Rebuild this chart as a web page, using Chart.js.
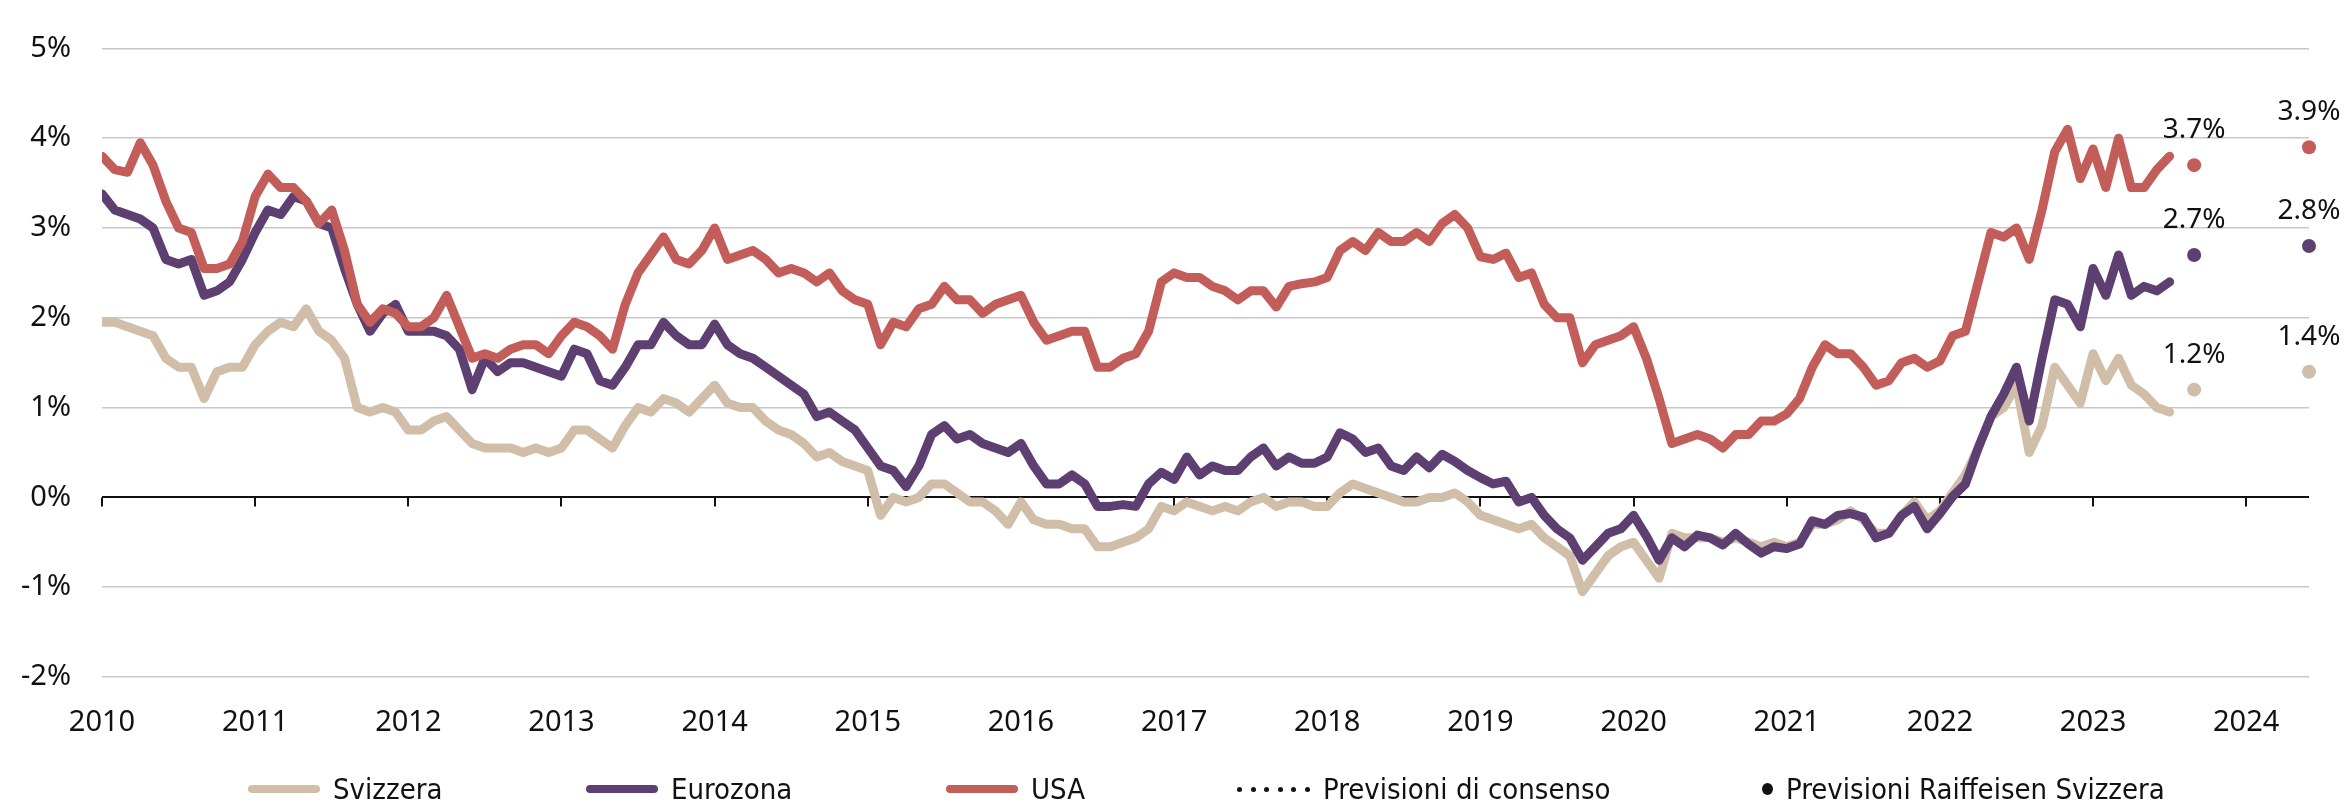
<!DOCTYPE html>
<html lang="it">
  <head>
    <meta charset="UTF-8" />
    <title>Rendimenti dei titoli di Stato a 10 anni</title>
    <script src="https://cdn.jsdelivr.net/npm/chart.js"></script>
    <style>
      body {
        margin: 0;
        background: #fff;
      }
      .wrap {
        position: relative;
        width: 2351px;
        height: 805px;
      }
      .legend-item {
        position: absolute;
        top: 771px;
        height: 36px;
        display: flex;
        align-items: center;
        font-family: "DejaVu Sans Condensed", "Liberation Sans Narrow", sans-serif;
        font-size: 29px;
        color: #111;
        white-space: nowrap;
      }
      .swatch {
        width: 72px;
        height: 8px;
        border-radius: 4px;
        margin-right: 13px;
      }
      .dots {
        display: flex;
        gap: 8.6px;
        margin-right: 13px;
      }
      .dots span {
        width: 5px;
        height: 5px;
        border-radius: 50%;
        background: #111;
      }
      .bigdot {
        width: 11px;
        height: 12px;
        border-radius: 50%;
        background: #111;
        margin-right: 13px;
      }
    </style>
  </head>
  <body>
    <div class="wrap">
      <canvas id="chart" width="2351" height="805"></canvas>

      <div class="legend-item" style="left: 248px">
        <div class="swatch" style="background: #d0bea9"></div>Svizzera
      </div>
      <div class="legend-item" style="left: 586px">
        <div class="swatch" style="background: #5e3f72"></div>Eurozona
      </div>
      <div class="legend-item" style="left: 946px">
        <div class="swatch" style="background: #c25d5a"></div>USA
      </div>
      <div class="legend-item" style="left: 1237px">
        <div class="dots"><span></span><span></span><span></span><span></span><span></span><span></span></div>Previsioni di consenso
      </div>
      <div class="legend-item" style="left: 1762px">
        <div class="bigdot"></div>Previsioni Raiffeisen Svizzera
      </div>
    </div>

    <script>
      // monthly values, first day of each month, Jan 2010 .. Jul 2023
      var startYear = 2010;

      var svizzera = [
        1.95, 1.95, 1.90, 1.85, 1.80, 1.55, 1.45, 1.45, 1.10, 1.40, 1.45, 1.45,
        1.70, 1.85, 1.95, 1.90, 2.10, 1.85, 1.75, 1.55, 1.00, 0.95, 1.00, 0.95,
        0.75, 0.75, 0.85, 0.90, 0.75, 0.60, 0.55, 0.55, 0.55, 0.50, 0.55, 0.50,
        0.55, 0.75, 0.75, 0.65, 0.55, 0.80, 1.00, 0.95, 1.10, 1.05, 0.95, 1.10,
        1.25, 1.05, 1.00, 1.00, 0.85, 0.75, 0.70, 0.60, 0.45, 0.50, 0.40, 0.35,
        0.30, -0.20, 0.00, -0.05, 0.00, 0.15, 0.15, 0.05, -0.05, -0.05, -0.15, -0.30,
        -0.05, -0.25, -0.30, -0.30, -0.35, -0.35, -0.55, -0.55, -0.50, -0.45, -0.35, -0.10,
        -0.15, -0.05, -0.10, -0.15, -0.10, -0.15, -0.05, 0.00, -0.10, -0.05, -0.05, -0.10,
        -0.10, 0.05, 0.15, 0.10, 0.05, 0.00, -0.05, -0.05, 0.00, 0.00, 0.05, -0.05,
        -0.20, -0.25, -0.30, -0.35, -0.30, -0.45, -0.55, -0.65, -1.05, -0.85, -0.65, -0.55,
        -0.50, -0.70, -0.90, -0.40, -0.45, -0.45, -0.45, -0.50, -0.45, -0.50, -0.55, -0.50,
        -0.55, -0.50, -0.30, -0.30, -0.25, -0.15, -0.25, -0.40, -0.40, -0.20, -0.05, -0.25,
        -0.15, 0.05, 0.25, 0.55, 0.90, 1.00, 1.25, 0.50, 0.80, 1.45, 1.25, 1.05,
        1.60, 1.30, 1.55, 1.25, 1.15, 1.00, 0.95
      ];

      var eurozona = [
        3.38, 3.20, 3.15, 3.10, 3.00, 2.65, 2.60, 2.65, 2.25, 2.30, 2.40, 2.65,
        2.95, 3.20, 3.15, 3.35, 3.30, 3.05, 3.00, 2.55, 2.15, 1.85, 2.05, 2.15,
        1.85, 1.85, 1.85, 1.80, 1.65, 1.20, 1.55, 1.40, 1.50, 1.50, 1.45, 1.40,
        1.35, 1.65, 1.60, 1.30, 1.25, 1.45, 1.70, 1.70, 1.95, 1.80, 1.70, 1.70,
        1.93, 1.70, 1.60, 1.55, 1.45, 1.35, 1.25, 1.15, 0.90, 0.95, 0.85, 0.75,
        0.55, 0.35, 0.30, 0.12, 0.35, 0.70, 0.80, 0.65, 0.70, 0.60, 0.55, 0.50,
        0.60, 0.35, 0.15, 0.15, 0.25, 0.15, -0.10, -0.10, -0.08, -0.10, 0.15, 0.28,
        0.20, 0.45, 0.25, 0.35, 0.30, 0.30, 0.45, 0.55, 0.35, 0.45, 0.38, 0.38,
        0.45, 0.72, 0.65, 0.50, 0.55, 0.35, 0.30, 0.45, 0.33, 0.48, 0.40, 0.30,
        0.22, 0.15, 0.18, -0.05, 0.00, -0.20, -0.35, -0.45, -0.70, -0.55, -0.40, -0.35,
        -0.20, -0.43, -0.70, -0.45, -0.55, -0.42, -0.45, -0.53, -0.40, -0.52, -0.62, -0.55,
        -0.57, -0.52, -0.26, -0.30, -0.20, -0.18, -0.22, -0.45, -0.40, -0.20, -0.10, -0.35,
        -0.18, 0.01, 0.15, 0.55, 0.90, 1.15, 1.45, 0.85, 1.55, 2.20, 2.15, 1.90,
        2.55, 2.25, 2.70, 2.25, 2.35, 2.30, 2.40
      ];

      var usa = [
        3.80, 3.65, 3.62, 3.95, 3.70, 3.30, 3.00, 2.95, 2.55, 2.55, 2.60, 2.85,
        3.35, 3.60, 3.45, 3.45, 3.30, 3.05, 3.20, 2.75, 2.15, 1.95, 2.10, 2.05,
        1.90, 1.90, 2.00, 2.25, 1.90, 1.55, 1.60, 1.55, 1.65, 1.70, 1.70, 1.60,
        1.80, 1.95, 1.90, 1.80, 1.65, 2.15, 2.50, 2.70, 2.90, 2.65, 2.60, 2.75,
        3.00, 2.65, 2.70, 2.75, 2.65, 2.50, 2.55, 2.50, 2.40, 2.50, 2.30, 2.20,
        2.15, 1.70, 1.95, 1.90, 2.10, 2.15, 2.35, 2.20, 2.20, 2.05, 2.15, 2.20,
        2.25, 1.95, 1.75, 1.80, 1.85, 1.85, 1.45, 1.45, 1.55, 1.60, 1.85, 2.40,
        2.50, 2.45, 2.45, 2.35, 2.30, 2.20, 2.30, 2.30, 2.12, 2.35, 2.38, 2.40,
        2.45, 2.75, 2.85, 2.75, 2.95, 2.85, 2.85, 2.95, 2.85, 3.05, 3.15, 3.00,
        2.68, 2.65, 2.72, 2.45, 2.50, 2.15, 2.00, 2.00, 1.50, 1.70, 1.75, 1.80,
        1.90, 1.55, 1.10, 0.60, 0.65, 0.70, 0.65, 0.55, 0.70, 0.70, 0.85, 0.85,
        0.93, 1.10, 1.45, 1.70, 1.60, 1.60, 1.45, 1.25, 1.30, 1.50, 1.55, 1.45,
        1.52, 1.80, 1.85, 2.40, 2.95, 2.90, 3.00, 2.65, 3.20, 3.85, 4.10, 3.55,
        3.88, 3.45, 4.00, 3.45, 3.45, 3.65, 3.80
      ];

      // Raiffeisen forecasts (3 and 12 months ahead)
      var forecastDates = [2023.66, 2024.41];
      var forecastSvizzera = [1.2, 1.4];
      var forecastEurozona = [2.7, 2.8];
      var forecastUsa = [3.7, 3.9];

      var xTicks = [2010, 2011, 2012, 2013, 2014, 2015, 2016, 2017, 2018, 2019, 2020, 2021, 2022, 2023, 2024];
      var yTicks = [-2, -1, 0, 1, 2, 3, 4, 5];

      var colSvizzera = "#d0bea9";
      var colEurozona = "#5e3f72";
      var colUsa = "#c25d5a";

      function monthly(values) {
        return values.map(function (v, i) {
          return { x: startYear + i / 12, y: v };
        });
      }

      function forecast(values) {
        return values.map(function (v, i) {
          return { x: forecastDates[i], y: v };
        });
      }

      function lineSet(label, values, color, order) {
        return {
          label: label,
          data: monthly(values),
          borderColor: color,
          backgroundColor: color,
          borderWidth: 9,
          pointRadius: 0,
          borderJoinStyle: "round",
          borderCapStyle: "round",
          order: order,
        };
      }

      function dotSet(label, values, color) {
        return {
          label: label,
          data: forecast(values),
          showLine: false,
          pointRadius: 7,
          pointBorderWidth: 0,
          backgroundColor: color,
          borderColor: color,
          clip: false,
          order: 0,
          forecast: true,
        };
      }

      var zeroTicks = {
        id: "zeroTicks",
        beforeDatasetsDraw: function (chart) {
          var ctx = chart.ctx;
          var x = chart.scales.x;
          var y0 = chart.scales.y.getPixelForValue(0);
          ctx.save();
          ctx.strokeStyle = "#111";
          ctx.lineWidth = 2;
          xTicks.forEach(function (v) {
            var px = Math.round(x.getPixelForValue(v));
            ctx.beginPath();
            ctx.moveTo(px, y0);
            ctx.lineTo(px, y0 + 9);
            ctx.stroke();
          });
          ctx.restore();
        },
      };

      var forecastLabels = {
        id: "forecastLabels",
        afterDatasetsDraw: function (chart) {
          var ctx = chart.ctx;
          ctx.save();
          ctx.font = '28px "Noto Sans"';
          ctx.fillStyle = "#111";
          ctx.textAlign = "center";
          ctx.textBaseline = "alphabetic";
          chart.data.datasets.forEach(function (ds, i) {
            if (!ds.forecast) return;
            chart.getDatasetMeta(i).data.forEach(function (pt, j) {
              ctx.fillText(ds.data[j].y.toFixed(1) + "%", pt.x, pt.y - 27);
            });
          });
          ctx.restore();
        },
      };

      var tickFont = { family: "Noto Sans", size: 29 };

      new Chart(document.getElementById("chart").getContext("2d"), {
        type: "line",
        data: {
          datasets: [
            lineSet("Svizzera", svizzera, colSvizzera, 3),
            lineSet("Eurozona", eurozona, colEurozona, 2),
            lineSet("USA", usa, colUsa, 1),
            dotSet("Previsioni Svizzera", forecastSvizzera, colSvizzera),
            dotSet("Previsioni Eurozona", forecastEurozona, colEurozona),
            dotSet("Previsioni USA", forecastUsa, colUsa),
          ],
        },
        options: {
          responsive: false,
          animation: false,
          layout: { padding: { top: 27, right: 42, left: 0, bottom: 0 } },
          scales: {
            x: {
              type: "linear",
              min: 2010,
              max: 2024.41,
              afterBuildTicks: function (s) {
                s.ticks = xTicks.map(function (v) {
                  return { value: v };
                });
              },
              afterFit: function (s) {
                s.height = 128;
              },
              grid: { display: false },
              border: { display: false },
              ticks: {
                font: tickFont,
                color: "#111",
                padding: 20,
                maxRotation: 0,
                autoSkip: false,
                callback: function (v) {
                  return String(v);
                },
              },
            },
            y: {
              min: -2,
              max: 5,
              afterBuildTicks: function (s) {
                s.ticks = yTicks.map(function (v) {
                  return { value: v };
                });
              },
              afterFit: function (s) {
                s.width = 102;
              },
              border: { display: false },
              grid: {
                drawTicks: false,
                color: function (c) {
                  return c.tick && c.tick.value === 0 ? "#111" : "#c8c8c8";
                },
                lineWidth: function (c) {
                  return c.tick && c.tick.value === 0 ? 2 : 1.5;
                },
              },
              ticks: {
                font: tickFont,
                color: "#111",
                padding: 31,
                callback: function (v) {
                  return v + "%";
                },
              },
            },
          },
          plugins: {
            legend: { display: false },
            tooltip: { enabled: false },
          },
        },
        plugins: [zeroTicks, forecastLabels],
      });
    </script>
  </body>
</html>
